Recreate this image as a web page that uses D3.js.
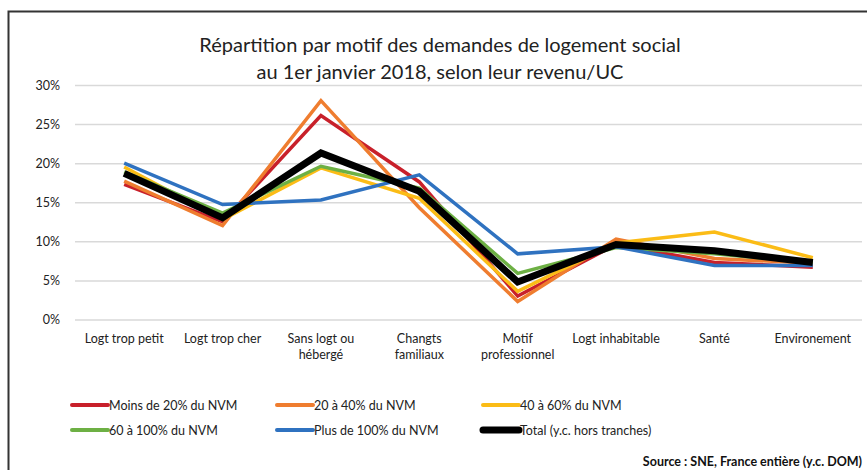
<!DOCTYPE html>
<html><head><meta charset="utf-8">
<script src="https://cdn.jsdelivr.net/npm/d3@7"></script>
<style>body{margin:0;background:#fff;} svg{display:block;font-family:Lato,"Open Sans",sans-serif;}</style>
</head><body><svg id="c" width="867" height="470"></svg>
<script>
const categories = [["Logt trop petit"],["Logt trop cher"],["Sans logt ou","hébergé"],["Changts","familiaux"],["Motif","professionnel"],["Logt inhabitable"],["Santé"],["Environement"]];
const seriesNames = ["Moins de 20% du NVM","20 à 40% du NVM","40 à 60% du NVM","60 à 100% du NVM","Plus de 100% du NVM","Total (y.c. hors tranches)"];
const seriesColors = ["#c8202a","#ef7d2f","#fbbc16","#6db044","#2f72c0","#000000"];
const moins20 = [17.3,12.5,26.1,17.6,3.0,9.6,7.3,6.7];
const de20a40 = [17.7,12.0,28.0,14.3,2.3,10.3,7.8,7.2];
const de40a60 = [19.5,12.8,19.4,15.5,3.6,9.8,11.2,7.9];
const de60a100 = [18.9,13.6,19.6,16.8,5.9,9.2,8.4,7.3];
const plus100 = [20.0,14.7,15.3,18.5,8.4,9.3,6.9,6.9];
const total = [18.7,13.0,21.3,16.4,4.8,9.6,8.8,7.3];
const yTicks = [0,5,10,15,20,25,30];
const title = ["Répartition par motif des demandes de logement social","au 1er janvier 2018, selon leur revenu/UC"];
const source = "Source : SNE, France entière (y.c. DOM)";

const seriesValues = [moins20,de20a40,de40a60,de60a100,plus100,total];
const svg = d3.select("#c");

// frame
svg.append("path").attr("d","M8.5,472 V11.5 H870").attr("fill","none").attr("stroke","#333").attr("stroke-width",2);

const x = d3.scaleBand().domain(d3.range(categories.length)).range([75,862]);
const y = d3.scaleLinear().domain([0,30]).range([319.5,85]);

// title
svg.append("text").attr("text-anchor","middle").attr("font-size",20).attr("fill","#222")
  .selectAll("tspan").data(title).join("tspan")
  .attr("x",440).attr("y",(d,i)=>52+i*27).text(d=>d);

// grid
const yAxis = d3.axisLeft(y).tickValues(yTicks).tickFormat(d=>d+"%").tickSize(-(862-75)).tickPadding(15);
const gy = svg.append("g").attr("transform","translate(75,0)").call(yAxis);
gy.select(".domain").remove();
gy.selectAll(".tick line").attr("stroke","#d9d9d9").attr("stroke-width",1.5);
gy.selectAll(".tick text").attr("font-size",12.5).attr("fill","#222").attr("font-family","Lato,'Open Sans',sans-serif");

// x labels
const gx = svg.append("g");
categories.forEach((c,i)=>{
  const t = gx.append("text").attr("text-anchor","middle").attr("font-size",12.5).attr("fill","#222");
  c.forEach((l,j)=>t.append("tspan").attr("x",x(i)+x.bandwidth()/2).attr("y",343+j*16).text(l));
});

// lines
const line = d3.line().x((d,i)=>x(i)+x.bandwidth()/2).y(d=>y(d));
seriesValues.forEach((vals,k)=>{
  svg.append("path").datum(vals).attr("d",line).attr("fill","none")
    .attr("stroke",seriesColors[k]).attr("stroke-width",k===5?7:3.5)
    .attr("stroke-linejoin","miter").attr("stroke-linecap","butt");
});

// legend
const legX = [72,277,483], legY = [405,430];
seriesNames.forEach((n,k)=>{
  const lx = legX[k%3], ly = legY[Math.floor(k/3)];
  svg.append("line").attr("x1",lx).attr("x2",lx+36).attr("y1",ly).attr("y2",ly)
    .attr("stroke",seriesColors[k]).attr("stroke-width",k===5?7:4).attr("stroke-linecap","round");
  svg.append("text").attr("x",lx+37).attr("y",ly+4.5).attr("font-size",12.5).attr("fill","#222").text(n);
});

// source
svg.append("text").attr("x",862).attr("y",466).attr("text-anchor","end").attr("font-size",12.5)
  .attr("font-weight","bold").attr("fill","#111").text(source);
</script></body></html>
